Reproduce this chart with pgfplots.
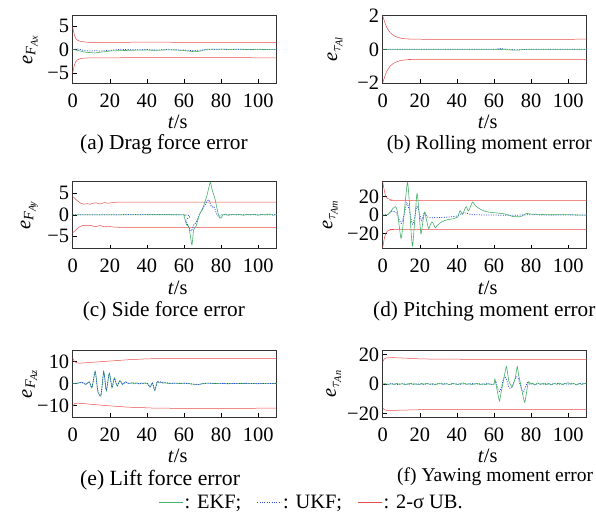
\documentclass[border=0pt]{standalone}
\usepackage{amsmath}
\usepackage{fontspec}
\setmainfont{Liberation Serif}
\usepackage{pgfplots}
\pgfplotsset{compat=1.18}
\definecolor{ekfgreen}{RGB}{70,175,105}
\definecolor{ukfblue}{RGB}{45,75,225}
\definecolor{ubred}{RGB}{235,75,75}
\pgfplotsset{
  panel/.style={scale only axis, width=204bp, height=67.3bp, xmin=0, xmax=110,
    xtick={0,20,40,60,80,100}, xticklabels={0,20,40,60,80,100},
    tick align=inside, xtick pos=left, ytick pos=left, major tick length=4bp,
    tick style={black, line width=0.5bp},
    axis line style={line width=0.7bp, black!80},
    font=\fontsize{20.5}{24}\selectfont,
    xticklabel style={yshift=-7bp},
    xlabel={\textit{t}/s},
    xlabel style={at={(axis description cs:0.515,0)}, anchor=center, yshift=-38.7bp},
    anchor=south west},
  ekf/.style={color=ekfgreen, line width=0.6bp, no markers, smooth, tension=0.4},
  ukf/.style={color=ukfblue, line width=0.75bp, dash pattern=on 1bp off 1.4bp, no markers, smooth, tension=0.4},
  ub/.style={color=ubred, line width=0.5bp, no markers, smooth, tension=0.4},
}
\newcommand{\capfont}[1]{\fontsize{#1}{24}\selectfont}
\begin{document}
\begin{tikzpicture}
\path[use as bounding box] (0,0) rectangle (596bp,514bp);

% (a) drag force
\begin{axis}[panel, at={(72.7bp,431bp)}, ymin=-7.1, ymax=7.2,
  ytick={-5,0,5}, yticklabels={−5,0,5},
  ylabel={\textit{e}$_{\textit{F}_{\textit{Ax}}}$},
  ylabel style={at={(axis description cs:-0.209,0.5)}, anchor=center}]
\addplot[ub] coordinates {(0,4.8) (0.5,3.8) (1,3.0) (1.6,2.4) (2.5,2.0) (4.3,1.75) (7,1.6) (10,1.5) (20,1.5) (30,1.55) (40,1.6) (50,1.6) (60,1.5) (110,1.5)};
\addplot[ub] coordinates {(0,-5.0) (0.5,-4.0) (1,-3.2) (1.6,-2.6) (2.5,-2.2) (4.3,-1.9) (7,-1.8) (10,-1.75) (20,-1.75) (40,-1.7) (60,-1.7) (110,-1.75)};
\addplot[ukf] coordinates {(0,0) (3,0.1) (6,-0.2) (9,-0.3) (12,-0.25) (15,-0.3) (18,-0.2) (22,-0.1) (26,0.05) (30,0) (35,-0.05) (40,0.0) (45,-0.1) (50,0) (55,-0.05) (60,-0.1) (65,-0.2) (70,-0.1) (75,0.0) (80,0.05) (90,0) (100,0.05) (110,0)};
\addplot[ekf] coordinates {(0,0) (2,-0.1) (4,-0.3) (6,-0.5) (8,-0.6) (10,-0.65) (12,-0.7) (14,-0.6) (16,-0.5) (18,-0.45) (20,-0.3) (24,-0.25) (28,-0.2) (32,-0.15) (36,-0.1) (40,-0.1) (44,-0.15) (48,-0.1) (52,-0.05) (56,-0.1) (60,-0.2) (63,-0.35) (66,-0.45) (69,-0.3) (72,0.05) (75,0.1) (80,0.1) (85,0.05) (90,0.1) (95,0.0) (100,0.05) (105,0.0) (110,0.0)};
\end{axis}

% (b) rolling moment
\begin{axis}[panel, at={(382.7bp,431bp)}, ymin=-2, ymax=2,
  ytick={-2,0,2}, yticklabels={−2,0,2},
  ylabel={\textit{e}$_{\tau_{\textit{Al}}}$},
  ylabel style={at={(axis description cs:-0.234,0.5)}, anchor=center}]
\addplot[ub] coordinates {(0,2.0) (1,1.65) (2,1.35) (3,1.15) (4,1.0) (5,0.9) (6,0.82) (8,0.72) (10,0.66) (12,0.63) (15,0.61) (20,0.6) (110,0.6)};
\addplot[ub] coordinates {(0,-2.0) (1,-1.65) (2,-1.35) (3,-1.15) (4,-1.0) (5,-0.9) (6,-0.82) (8,-0.72) (10,-0.66) (12,-0.63) (15,-0.61) (20,-0.6) (110,-0.6)};
\addplot[ukf] coordinates {(0,0) (60,0) (62,0.03) (64,0.04) (66,0.02) (68,0.0) (72,-0.03) (75,-0.01) (80,0) (110,0)};
\addplot[ekf] coordinates {(0,0) (60,0) (62,0.0) (66,-0.02) (70,-0.04) (73,-0.05) (75,-0.02) (78,0) (110,0)};
\end{axis}

% (c) side force
\begin{axis}[panel, at={(72.7bp,265.3bp)}, ymin=-7.9, ymax=7.8,
  ytick={-5,0,5}, yticklabels={−5,0,5},
  ylabel={\textit{e}$_{\textit{F}_{\textit{Ay}}}$},
  ylabel style={at={(axis description cs:-0.213,0.5)}, anchor=center}]
\addplot[ub] coordinates {(0,4.3) (1,3.9) (2,3.5) (3,3.1) (4,2.8) (5,2.6) (6,2.5) (7,2.55) (8,2.6) (9,2.5) (10,2.55) (11,2.7) (12,2.8) (13,2.75) (14,2.6) (15,2.55) (16,2.7) (17,2.85) (18,2.8) (19,2.7) (20,2.75) (22,2.9) (25,2.95) (30,2.95) (110,2.95)};
\addplot[ub] coordinates {(0,-4.2) (1,-3.8) (2,-3.4) (3,-3.0) (4,-2.75) (5,-2.55) (6,-2.45) (7,-2.5) (8,-2.55) (9,-2.45) (10,-2.5) (11,-2.65) (12,-2.75) (13,-2.7) (14,-2.55) (15,-2.5) (16,-2.65) (17,-2.8) (18,-2.75) (19,-2.65) (20,-2.7) (22,-2.85) (25,-2.9) (30,-2.9) (110,-2.9)};
\addplot[ukf] coordinates {(0,0) (60,0) (61,-1.2) (62,-2.4) (63,-3.2) (64,-3.8) (64.6,-3.0) (65.5,-2.2) (66.5,-1.8) (67.5,-0.8) (68.5,0.3) (69.5,1.2) (70.5,1.8) (71.5,2.4) (72.5,3.2) (73.5,3.5) (74.3,2.4) (75.2,1.8) (76,2.0) (77,1.0) (78,-0.2) (79,-0.4) (80,0) (85,0.05) (90,0) (110,0)};
\addplot[ekf] coordinates {(0,0) (30,0) (59,0) (60,-0.3) (61,-1.8) (61.5,-2.4) (62.5,-2.6) (63.3,-4.5) (64.3,-7.0) (65.2,-3.5) (66.5,-2.7) (67.3,-1.5) (68.3,0) (69,0.6) (70,1.2) (71,2.7) (72.2,4.2) (73.2,6.0) (74.2,7.6) (75,6.2) (75.8,5.0) (76.7,3.8) (77.6,1.9) (78.5,0.2) (79.4,-0.8) (80.3,-0.5) (81,0) (82,0.1) (84,-0.1) (86,0.1) (88,0) (90,0.1) (92,-0.1) (94,0.1) (96,0) (98,0.1) (100,-0.1) (102,0.1) (104,0) (106,0.2) (108,-0.1) (110,0.1)};
\end{axis}

% (d) pitching moment
\begin{axis}[panel, at={(382.7bp,265.3bp)}, ymin=-36, ymax=36,
  ytick={-20,0,20}, yticklabels={−20,0,20},
  ylabel={\textit{e}$_{\tau_{\textit{Am}}}$},
  ylabel style={at={(axis description cs:-0.258,0.5)}, anchor=center}]
\addplot[ub] coordinates {(0,36) (0.5,30) (1,25) (1.5,21) (2,19) (2.7,17.8) (4,16.5) (6,15.8) (10,15.6) (110,15.5)};
\addplot[ub] coordinates {(0,-35) (0.5,-29) (1,-24) (1.5,-20.5) (2,-18.5) (2.7,-16.8) (4,-16) (6,-15.6) (10,-15.4) (110,-15.3)};
\addplot[ukf] coordinates {(0,0) (3,1) (5,4) (7,3) (8.5,-3) (10,-9) (11.5,0) (13,13) (14.5,4) (16,-10) (17.2,-3) (18.5,10) (19.8,2) (21,-6) (22.5,3) (24,-2) (26,-3) (28,-2.5) (32,-2.5) (36,-2) (40,-1) (42,1) (44,2.5) (46,1.5) (48,0.5) (52,0.2) (60,0) (70,-0.3) (80,0.3) (90,0) (110,0)};
\addplot[ekf] coordinates {(0,0) (2.2,0) (4,3) (5.5,7) (7,9) (8,3) (8.8,-10) (9.9,-25) (11,-10) (12.2,15) (13.4,35) (14.5,10) (15.2,-15) (16.1,-33) (17.2,-8) (18.5,23) (19.5,5) (20.6,-20) (21.6,-8) (22.6,3) (23.7,-6) (24.8,-14.5) (25.7,-10) (26.6,-7.3) (27.5,-10) (28.4,-13.8) (29.5,-11) (32,-7) (35,-5) (38,-4) (39.5,-3) (40.5,-2) (41.7,4.5) (43,0.7) (44,5) (45,9) (46.3,4.5) (47.5,10) (48.6,14) (50,10) (52,7) (54,5) (56,3.6) (60,2.5) (65,1.5) (68,0) (70,-1.5) (74,-1.8) (76,0) (77.5,1.8) (80,1) (85,0.7) (90,0.3) (100,0.5) (105,0) (110,0)};
\end{axis}

% (e) lift force
\begin{axis}[panel, at={(72.7bp,96.8bp)}, ymin=-15.4, ymax=15.4,
  ytick={-10,0,10}, yticklabels={−10,0,10},
  ylabel={\textit{e}$_{\textit{F}_{\textit{Az}}}$},
  ylabel style={at={(axis description cs:-0.211,0.5)}, anchor=center},
  legend columns=3,
  legend style={at={(axis description cs:1.17,-1.27)}, anchor=center, draw=none, fill=none,
    font=\fontsize{20.5}{24}\selectfont, nodes={inner sep=1.5bp},
    /tikz/every even column/.append style={column sep=14bp}},
  legend image code/.code={\draw[#1] (0bp,0bp) -- (24bp,0bp);}]
\addplot[ekf] coordinates {(0,0) (2,0.1) (4,0.5) (5,0.6) (6,0.2) (7,-0.5) (8,0.2) (9,0.8) (10.3,-2) (11.2,1.5) (12.1,5.7) (12.8,2) (13.5,-3.5) (14.3,-5.0) (15.2,-5.8) (16,0) (16.7,5.7) (17.4,2) (18.1,-3.5) (18.9,0.5) (19.7,4.9) (20.5,1.5) (21.2,-2) (21.8,0.5) (22.5,2.6) (23.2,0.5) (24,-1.2) (24.7,0.2) (25.5,1.4) (26.2,0.3) (26.8,-0.5) (27.6,0.3) (28.6,0.8) (29.5,0.2) (30.4,0) (32,0.4) (33,-0.2) (34,0.3) (35,0.2) (36,-0.2) (37,0.3) (38,0) (39,0.2) (40.3,0) (41.7,-1.7) (42.3,-1.0) (43,0.3) (43.7,-2) (44.3,-3.2) (45,-1) (45.7,1.0) (46.5,0.3) (47.5,0.6) (48.5,0.2) (50,0.3) (52,0) (55,0.2) (58,0) (61,0.2) (64,-0.2) (67.6,-0.5) (70,0) (73,0.2) (76,0) (80,0.1) (84,-0.1) (88,0.1) (92,0) (96,0.1) (100,-0.1) (104,0.1) (110,0)};
\addlegendentry{: EKF;}
\addplot[ukf] coordinates {(0,0) (3,0.2) (5,0.5) (7,-0.3) (9,0.6) (10.3,-1.8) (12.1,5.2) (13.5,-3) (15.2,-5.3) (16.7,5.2) (18.1,-3) (19.7,4.5) (21.2,-1.8) (22.5,2.4) (24,-1) (25.5,1.3) (27,-0.3) (28.6,0.7) (30.4,0.1) (33,0.3) (36,-0.1) (39,0.3) (40.3,0.1) (41.7,-1.5) (43,0.4) (44.3,-2.9) (45.7,1.1) (47.5,0.7) (50,0.4) (54,0.1) (58,0.2) (62,0) (67.6,-0.4) (72,0.1) (78,0.1) (85,0) (92,0.1) (100,0) (110,0.1)};
\addlegendentry{: UKF;}
\addplot[ub] coordinates {(0,11.8) (0.7,10.5) (1.5,9.8) (2.5,9.4) (5,9.4) (10,9.7) (15,10.0) (20,10.3) (25,10.6) (30,10.9) (35,11.1) (40,11.3) (50,11.4) (110,11.4)};
\addlegendentry{: 2-σ UB.}
\addplot[ub, forget plot] coordinates {(0,-10.5) (1,-9.2) (2.5,-9.0) (5,-9.1) (10,-9.5) (20,-10.2) (30,-10.8) (40,-11.1) (50,-11.3) (110,-11.3)};
\end{axis}

% (f) yawing moment
\begin{axis}[panel, at={(382.7bp,96.8bp)}, ymin=-22.6, ymax=23.3,
  ytick={-20,0,20}, yticklabels={−20,0,20},
  ylabel={\textit{e}$_{\tau_{\textit{An}}}$},
  ylabel style={at={(axis description cs:-0.24,0.5)}, anchor=center}]
\addplot[ub] coordinates {(0,15) (0.5,16.5) (1,17.3) (2,17.8) (5,18.0) (10,17.8) (15,17.5) (20,17.2) (30,17.0) (50,16.9) (110,16.9)};
\addplot[ub] coordinates {(0,-16.3) (0.5,-17.0) (1,-17.5) (2,-17.9) (5,-18.0) (10,-17.8) (20,-17.5) (30,-17.4) (110,-17.3)};
\addplot[ukf] coordinates {(0,0) (2,-0.3) (4,0.3) (6,0.1) (8,-0.4) (10,0.3) (12,0) (14,-0.3) (16,0.4) (18,-0.2) (20,0.2) (22,-0.4) (24,0.3) (26,0) (28,-0.3) (30,0.4) (32,-0.1) (34,0.3) (36,-0.4) (38,0.2) (40,0.1) (42,-0.3) (44,0.3) (46,-0.2) (48,0.4) (50,-0.1) (52,0.2) (54,-0.3) (56,0.3) (58,-0.2) (60,0) (61,2) (62,-3) (63,-5) (64,-2) (65,3) (66,5) (67,2) (68,-2) (69,-3) (70,-1) (71,2) (72,5) (73,4) (74,0) (75,-4) (76,-5) (77,-2) (78,1) (79,0) (80,0.3) (82,-0.4) (84,0.5) (86,-0.2) (88,0.3) (90,-0.4) (92,0.2) (94,0.5) (96,-0.3) (98,0.4) (100,-0.2) (102,0.6) (104,-0.3) (106,0.2) (108,0.5) (110,0)};
\addplot[ekf] coordinates {(0,0) (1.5,0.3) (3,-0.4) (4.5,0.2) (6,-0.3) (7.5,0.5) (9,-0.2) (10.5,0.3) (12,-0.5) (13.5,0.2) (15,0.4) (16.5,-0.3) (18,0.2) (19.5,-0.5) (21,0.4) (22.5,0) (24,0.5) (25.5,-0.3) (27,0.3) (28.5,-0.4) (30,0.2) (31.5,0.6) (33,-0.2) (34.5,0.3) (36,-0.4) (37.5,0.5) (39,0) (40.5,-0.3) (42,0.4) (43.5,0.8) (45,-0.2) (46.5,0.3) (48,-0.5) (49.5,0.2) (51,0.4) (52.5,-0.3) (54,0.2) (55.5,-0.4) (57,0.3) (58.5,-0.2) (60,0) (60.5,3.5) (61.5,-3) (62.3,-8) (63,-11.6) (63.8,-6) (65,1.6) (65.8,7) (66.7,11.9) (67.4,7) (68.1,1.6) (69,-0.5) (69.9,-1.8) (70.6,0.5) (71.4,3.9) (72,8) (72.6,11.9) (73.3,6) (74.1,1.6) (75,-4) (75.8,-9) (76.6,-12.5) (77.5,-6) (78.6,1.6) (79.9,0) (81,0.5) (82,-0.6) (83.5,0.8) (85,-0.3) (86.5,0.6) (88,-0.4) (89.5,0.5) (91,-0.5) (92.5,0.4) (94,-0.2) (95.5,0.7) (97,-0.4) (98.5,0.3) (100,0.9) (101.5,-0.2) (103,0.5) (104.5,-0.6) (106,0.4) (107.5,-0.3) (109,0.6) (110,0)};
\end{axis}

\node[anchor=base west, font=\capfont{21.4}, inner sep=0pt] at (80bp,364bp) {(a) Drag force error};
\node[anchor=base west, font=\capfont{20.3}, inner sep=0pt] at (386.7bp,364bp) {(b) Rolling moment error};
\node[anchor=base west, font=\capfont{21.3}, inner sep=0pt] at (82.7bp,197.3bp) {(c) Side force error};
\node[anchor=base west, font=\capfont{21.3}, inner sep=0pt] at (373bp,197.3bp) {(d) Pitching moment error};
\node[anchor=base west, font=\capfont{21.8}, inner sep=0pt] at (80bp,28.3bp) {(e) Lift force error};
\node[anchor=base west, font=\capfont{19.6}, inner sep=0pt] at (397bp,32.3bp) {(f) Yawing moment error};
\end{tikzpicture}
\end{document}
